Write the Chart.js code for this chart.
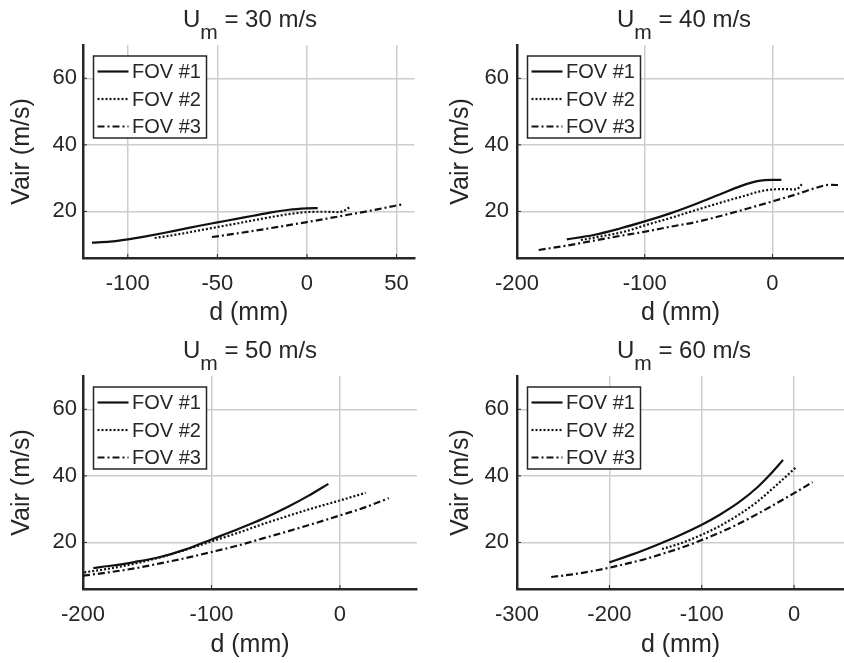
<!DOCTYPE html>
<html>
<head>
<meta charset="utf-8">
<script src="https://cdn.jsdelivr.net/npm/chart.js@4.4.1/dist/chart.umd.min.js"></script>
<style>
  body { margin: 0; background: #fff; }
  #wrap { position: relative; width: 844px; height: 663px; overflow: hidden; }
  canvas { position: absolute; }
</style>
</head>
<body>
<div id="wrap">
  <canvas id="c30" width="422" height="331" style="left:0;top:0"></canvas>
  <canvas id="c40" width="422" height="331" style="left:422px;top:0"></canvas>
  <canvas id="c50" width="422" height="332" style="left:0;top:331px"></canvas>
  <canvas id="c60" width="422" height="332" style="left:422px;top:331px"></canvas>
</div>
<script>
// data: d (mm) vs Vair (m/s)
const seriesNames = ['FOV #1', 'FOV #2', 'FOV #3'];
const yTicks = [20, 40, 60];

// Um = 30 m/s
const xTicks30 = [-100, -50, 0, 50];
const d30_1 = [-120, -110, -100, -90, -80, -70, -60, -50, -40, -30, -20, -10, 0, 6];
const v30_1 = [10.6, 10.9, 11.6, 12.5, 13.5, 14.6, 15.7, 16.7, 17.7, 18.7, 19.7, 20.5, 20.9, 21.0];
const d30_2 = [-85, -80, -70, -60, -50, -40, -30, -20, -10, 0, 10, 18, 21, 24];
const v30_2 = [12.0, 12.4, 13.3, 14.3, 15.3, 16.3, 17.3, 18.3, 19.2, 19.8, 19.9, 19.8, 20.3, 21.3];
const d30_3 = [-53, -40, -20, 0, 20, 40, 53];
const v30_3 = [12.3, 13.3, 15.0, 16.8, 18.7, 20.7, 22.1];

// Um = 40 m/s
const xTicks40 = [-200, -100, 0];
const d40_1 = [-161, -140, -120, -100, -80, -60, -40, -25, -12, 0, 7];
const v40_1 = [11.6, 12.9, 14.8, 17.0, 19.4, 22.2, 25.3, 27.6, 29.1, 29.5, 29.5];
const d40_2 = [-150, -130, -115, -100, -80, -60, -40, -20, -10, 0, 10, 19, 21, 23];
const v40_2 = [11.4, 12.8, 14.0, 15.8, 18.0, 20.4, 22.7, 24.9, 26.0, 26.6, 26.7, 26.6, 27.3, 28.2];
const d40_3 = [-183, -160, -140, -120, -100, -80, -60, -40, -20, 0, 20, 35, 45, 53];
const v40_3 = [8.4, 9.8, 11.2, 12.6, 13.9, 15.4, 16.8, 18.7, 20.8, 23.0, 25.3, 27.2, 28.0, 27.9];

// Um = 50 m/s
const xTicks50 = [-200, -100, 0];
const d50_1 = [-192, -180, -160, -140, -120, -100, -80, -60, -40, -25, -9];
const v50_1 = [12.3, 12.9, 14.1, 15.6, 17.9, 20.9, 23.9, 27.1, 30.8, 33.9, 37.6];
const d50_2 = [-199, -180, -160, -140, -120, -100, -80, -60, -40, -20, 0, 20];
const v50_2 = [11.0, 12.1, 13.6, 15.5, 17.8, 20.3, 22.8, 25.5, 28.0, 30.4, 32.6, 34.9];
const d50_3 = [-200, -180, -160, -140, -120, -100, -80, -60, -40, -20, 0, 20, 38];
const v50_3 = [10.0, 11.0, 12.2, 13.7, 15.3, 17.1, 19.0, 21.2, 23.4, 25.7, 28.1, 30.6, 33.3];

// Um = 60 m/s
const xTicks60 = [-300, -200, -100, 0];
const d60_1 = [-200, -175, -150, -125, -100, -80, -60, -40, -25, -12];
const v60_1 = [14.0, 16.4, 19.1, 22.0, 25.3, 28.4, 32.0, 36.5, 40.7, 44.8];
const d60_2 = [-143, -120, -100, -80, -60, -40, -20, 3];
const v60_2 = [18.0, 20.0, 22.3, 25.0, 28.3, 32.2, 37.0, 42.8];
const d60_3 = [-263, -240, -220, -200, -180, -160, -140, -120, -100, -80, -60, -40, -20, 0, 20];
const v60_3 = [9.6, 10.4, 11.3, 12.4, 13.7, 15.1, 16.8, 18.6, 20.7, 23.0, 25.6, 28.5, 31.6, 34.8, 38.1];

const FONT = "'Liberation Sans', Arial, sans-serif";
const ink = '#262626';
const lineDash = [[], [2, 2], [7, 3, 2, 3]];

Chart.defaults.font.family = FONT;
Chart.defaults.color = ink;

// title with subscript: U_m = xx m/s
const titlePlugin = {
  id: 'umTitle',
  afterDraw(chart, args, opts) {
    const ctx = chart.ctx;
    const cx = chart.chartArea.left + 167;
    const big = '24px ' + FONT, small = '21px ' + FONT;
    const rest = ' = ' + opts.speed + ' m/s';
    ctx.save();
    ctx.fillStyle = ink;
    ctx.textAlign = 'left';
    ctx.textBaseline = 'alphabetic';
    ctx.font = big;
    const wU = ctx.measureText('U').width;
    const wR = ctx.measureText(rest).width;
    ctx.font = small;
    const wM = ctx.measureText('m').width;
    let x = cx - (wU + wM + wR) / 2;
    ctx.font = big; ctx.fillText('U', x, 27); x += wU;
    ctx.font = small; ctx.fillText('m', x, 39); x += wM;
    ctx.font = big; ctx.fillText(rest, x, 27);
    ctx.restore();
  }
};

// boxed legend in the top-left corner of the plot
const boxLegend = {
  id: 'boxLegend',
  afterDatasetsDraw(chart) {
    const {ctx, chartArea} = chart;
    const x0 = chartArea.left + 10.5, y0 = chartArea.top + 11;
    ctx.save();
    ctx.fillStyle = '#fff';
    ctx.fillRect(x0, y0, 113, 82);
    ctx.strokeStyle = ink;
    ctx.lineWidth = 1.5;
    ctx.strokeRect(x0, y0, 113, 82);
    ctx.font = '20px ' + FONT;
    ctx.textBaseline = 'middle';
    chart.data.datasets.forEach((ds, i) => {
      const y = y0 + 15.5 + i * 27.5;
      ctx.setLineDash(ds.borderDash);
      ctx.lineWidth = ds.borderWidth;
      ctx.strokeStyle = ds.borderColor;
      ctx.beginPath(); ctx.moveTo(x0 + 4, y); ctx.lineTo(x0 + 35, y); ctx.stroke();
      ctx.setLineDash([]);
      ctx.fillStyle = ink;
      ctx.fillText(ds.label, x0 + 38.5, y + 1);
    });
    ctx.restore();
  }
};

// small inward tick marks like matlab
const inTicks = {
  id: 'inTicks',
  afterDraw(chart) {
    const {ctx, chartArea: a, scales: {x, y}} = chart;
    ctx.save();
    ctx.strokeStyle = ink;
    ctx.lineWidth = 1;
    ctx.beginPath();
    x.ticks.forEach(t => { const p = x.getPixelForValue(t.value); ctx.moveTo(p, a.bottom); ctx.lineTo(p, a.bottom - 4); });
    y.ticks.forEach(t => { const p = y.getPixelForValue(t.value); ctx.moveTo(a.left, p); ctx.lineTo(a.left + 4, p); });
    ctx.stroke();
    ctx.restore();
  }
};

const panels = [
  {id: 'c30', speed: 30, xMin: -125, xMax: 60, xTicks: xTicks30, leftW: 83, padRight: 5, yTitlePad: 7.5, tickPad: 6,
   series: [[d30_1, v30_1], [d30_2, v30_2], [d30_3, v30_3]]},
  {id: 'c40', speed: 40, xMin: -200, xMax: 56, xTicks: xTicks40, leftW: 95, padRight: 0, yTitlePad: 24.5, tickPad: 8,
   series: [[d40_1, v40_1], [d40_2, v40_2], [d40_3, v40_3]]},
  {id: 'c50', speed: 50, xMin: -200, xMax: 60, xTicks: xTicks50, leftW: 83, padRight: 5, yTitlePad: 7.5, tickPad: 6,
   series: [[d50_1, v50_1], [d50_2, v50_2], [d50_3, v50_3]]},
  {id: 'c60', speed: 60, xMin: -300, xMax: 54, xTicks: xTicks60, leftW: 95, padRight: 0, yTitlePad: 24.5, tickPad: 8,
   series: [[d60_1, v60_1], [d60_2, v60_2], [d60_3, v60_3]]}
];

const gridStyle = {color: '#cdcdcd', lineWidth: 1.5, drawTicks: false};
const borderStyle = {display: true, color: ink, width: 2.5};

panels.forEach(p => {
  new Chart(document.getElementById(p.id), {
    type: 'line',
    data: {
      datasets: p.series.map((s, i) => ({
        label: seriesNames[i],
        data: s[0].map((d, k) => ({x: d, y: s[1][k]})),
        borderColor: '#111',
        borderWidth: 2.2,
        borderDash: lineDash[i],
        pointRadius: 0,
        cubicInterpolationMode: 'monotone',
        fill: false
      }))
    },
    options: {
      responsive: false,
      animation: false,
      layout: {padding: {top: 45, right: p.padRight, left: 0, bottom: 0}},
      plugins: {
        legend: {display: false},
        tooltip: {enabled: false},
        umTitle: {speed: p.speed}
      },
      scales: {
        x: {
          type: 'linear', min: p.xMin, max: p.xMax,
          afterBuildTicks: s => { s.ticks = p.xTicks.map(v => ({value: v})); },
          afterFit: s => { s.height = s.chart.height - 258; },
          grid: gridStyle, border: borderStyle,
          ticks: {font: {size: 22}, padding: 13, maxRotation: 0, autoSkip: false},
          title: {display: true, text: 'd (mm)', font: {size: 25}, padding: {top: 0, bottom: 3}}
        },
        y: {
          min: 6, max: 70,
          afterBuildTicks: s => { s.ticks = yTicks.map(v => ({value: v})); },
          afterFit: s => { s.width = p.leftW; },
          grid: gridStyle, border: borderStyle,
          ticks: {font: {size: 22}, padding: p.tickPad},
          title: {display: true, text: 'Vair (m/s)', font: {size: 25}, padding: {top: p.yTitlePad, bottom: 0}}
        }
      }
    },
    plugins: [titlePlugin, boxLegend, inTicks]
  });
});
</script>
</body>
</html>
